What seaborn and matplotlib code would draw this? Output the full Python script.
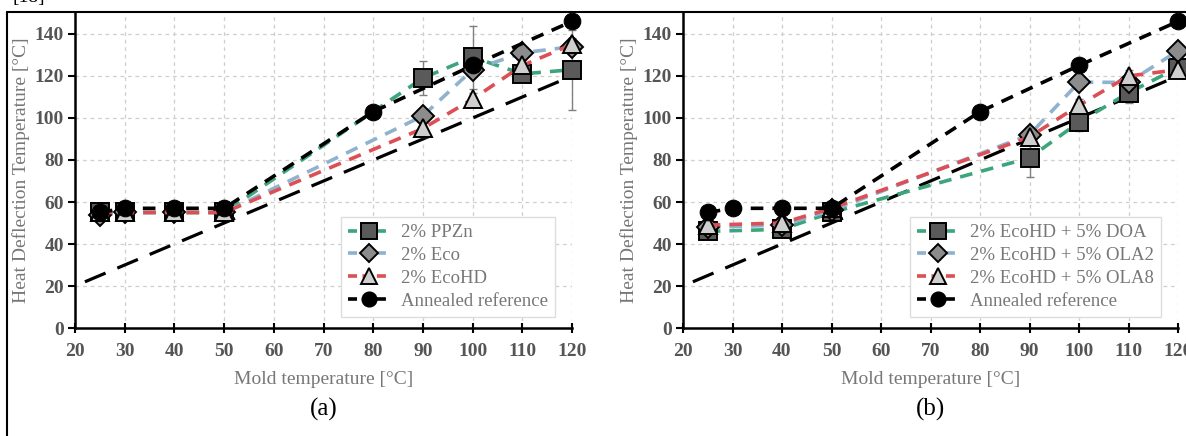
import numpy as np
import pandas as pd
import matplotlib
matplotlib.use("Agg")
import matplotlib.pyplot as plt
from matplotlib.lines import Line2D
import seaborn as sns

sns.set_theme(style="white")
plt.rcParams['font.family'] = ['Liberation Serif', 'DejaVu Serif']

# ---------------- data ----------------
# Panel (a)
a_x = [25, 30, 40, 50, 90, 100, 110, 120]
a_ppzn = [55, 55, 55, 55, 119, 129, 121, 123]
a_ppzn_err = [0, 0, 0, 0, 8, 15, 3, 19]
a_eco = [54, 55, 55, 55, 101, 123, 131, 134]
a_eco_err = [0, 0, 0, 0, 3, 3, 3, 3]
a_ecohd = [55, 55, 55, 55, 95, 109, 125, 135]
a_ecohd_err = [0, 0, 0, 0, 4, 3, 3, 3]

# Panel (b)
b_x = [25, 40, 50, 90, 100, 110, 120]
b_doa = [46, 47, 55, 81, 98, 112, 124]
b_doa_err = [0, 0, 0, 9, 4, 5, 3]
b_ola2 = [48, 49, 56, 92, 117, 117, 132]
b_ola2_err = [0, 0, 0, 3, 3, 3, 3]
b_ola8 = [49, 50, 57, 91, 106, 120, 123]
b_ola8_err = [0, 0, 0, 3, 3, 3, 3]

# Annealed reference (both panels)
ref_x = [25, 30, 40, 50, 80, 100, 120]
ref_y = [55, 57, 57, 57, 103, 125, 146]

# Diagonal line (mold temperature = HDT)
diag_x = [22, 120]
diag_y = [22, 120]

labels_a = ["2% PPZn", "2% Eco", "2% EcoHD", "Annealed reference"]
labels_b = ["2% EcoHD + 5% DOA", "2% EcoHD + 5% OLA2", "2% EcoHD + 5% OLA8", "Annealed reference"]

xticks = [20, 30, 40, 50, 60, 70, 80, 90, 100, 110, 120]
yticks = [0, 20, 40, 60, 80, 100, 120, 140]

# ---------------- style ----------------
GREEN = "#3da57c"
BLUE = "#8fb2cf"
RED = "#dc4f55"
line_colors = [GREEN, BLUE, RED, "black"]
markers = ["s", "D", "^", "o"]
mfaces = ["#5a5a5a", "#8c8c8c", "#cfcfcf", "black"]
msizes = [13, 11, 13, 12]

fig = plt.figure(figsize=(11.86, 4.36), dpi=100)
W, H = 1186, 436

def px_axes(x0, x1, ytop, ybot):
    return fig.add_axes([x0 / W, 1 - ybot / H, (x1 - x0) / W, (ybot - ytop) / H])

ax_a = px_axes(75, 572, 13, 328)
ax_b = px_axes(683, 1178, 13, 328)

def draw_panel(ax, xs, series, errs, labels, tag):
    # diagonal
    sns.lineplot(x=diag_x, y=diag_y, ax=ax, color="black", linewidth=2.3,
                 linestyle=(0, (7, 4)), zorder=2, sort=False)
    for i, (ys, es) in enumerate(zip(series, errs)):
        ax.errorbar(xs, ys, yerr=es, fmt="none", ecolor="#808080", elinewidth=1.0,
                    capsize=3, capthick=1.0, zorder=3, clip_on=False)
        sns.lineplot(x=xs, y=ys, ax=ax, color=line_colors[i], linewidth=2.6,
                     linestyle=(0, (3.5, 2.5)), marker=markers[i],
                     markersize=msizes[i], markerfacecolor=mfaces[i],
                     markeredgecolor="black", markeredgewidth=1.4,
                     zorder=4 + i, clip_on=False, sort=False)
    sns.lineplot(x=ref_x, y=ref_y, ax=ax, color="black", linewidth=2.6,
                 linestyle=(0, (3.5, 2.5)), marker="o", markersize=msizes[3],
                 markerfacecolor="black", markeredgecolor="black",
                 zorder=8, clip_on=False, sort=False)

    ax.set_xlim(20, 120)
    ax.set_ylim(0, 150)
    ax.set_xticks(xticks)
    ax.set_yticks(yticks)
    ax.grid(True, color="#cfcfcf", linestyle=(0, (3, 3)), linewidth=0.9)
    for s in ["top", "right"]:
        ax.spines[s].set_visible(False)
    for s in ["left", "bottom"]:
        ax.spines[s].set_color("black")
        ax.spines[s].set_linewidth(1.8)
    ax.tick_params(axis="x", direction="inout", length=7, width=1.5, color="black",
                   labelsize=14, labelcolor="#555555", pad=7, bottom=True)
    ax.tick_params(axis="y", direction="out", length=5, width=1.5, color="black",
                   labelsize=14, labelcolor="#555555", pad=3, left=True)
    for t in ax.get_xticklabels() + ax.get_yticklabels():
        t.set_fontweight("bold")
    ax.set_xlabel("Mold temperature [°C]", fontsize=14, color="#777777", labelpad=8)
    ax.set_ylabel("Heat Deflection Temperature [°C]", fontsize=14, color="#777777",
                  labelpad=3)

    handles = []
    for i in range(4):
        handles.append(Line2D([], [], color=line_colors[i], linewidth=2.6,
                              linestyle=(0, (2.5, 1.5)), marker=markers[i],
                              markersize=msizes[i] * 0.85, markerfacecolor=mfaces[i],
                              markeredgecolor="black", markeredgewidth=1.4))
    leg = ax.legend(handles, labels, loc="lower right", bbox_to_anchor=(0.985, 0.005),
                    fontsize=13.5, labelcolor="#777777", frameon=True, fancybox=False,
                    edgecolor="#dddddd", framealpha=1, handlelength=2.2,
                    handletextpad=0.6, borderpad=0.4, labelspacing=0.3)
    leg.get_frame().set_linewidth(1.0)
    ax.text(0.5, -0.26, tag, transform=ax.transAxes, ha="center", va="center",
            fontsize=18, color="black")

draw_panel(ax_a, a_x, [a_ppzn, a_eco, a_ecohd], [a_ppzn_err, a_eco_err, a_ecohd_err],
           labels_a, "(a)")
draw_panel(ax_b, b_x, [b_doa, b_ola2, b_ola8], [b_doa_err, b_ola2_err, b_ola8_err],
           labels_b, "(b)")

# outer frame
fig.add_artist(Line2D([7 / W, 1.0], [1 - 12 / H, 1 - 12 / H], color="black",
                      linewidth=1.5, transform=fig.transFigure))
fig.add_artist(Line2D([7 / W, 7 / W], [0, 1 - 12 / H], color="black",
                      linewidth=1.5, transform=fig.transFigure))
fig.text(12 / W, 1 + 2 / H, "[18]", fontsize=14, va="center", ha="left", color="black")

fig.savefig("out.png", dpi=100)
